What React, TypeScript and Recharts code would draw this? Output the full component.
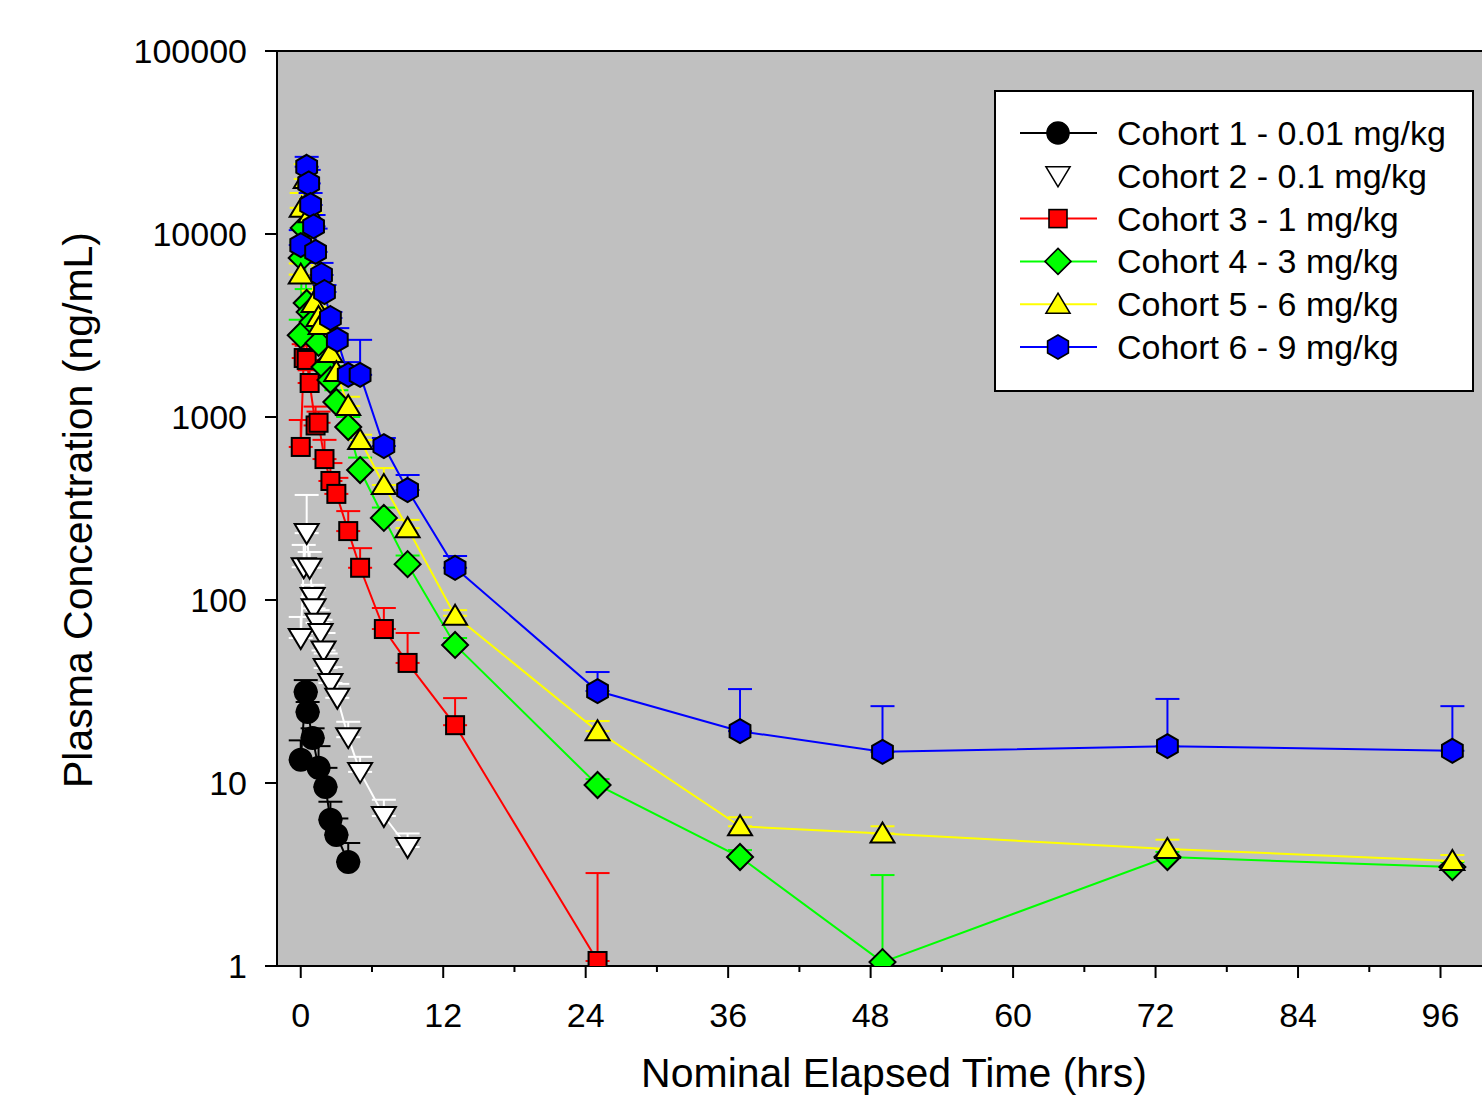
import React from "react";
import { LineChart, Line, XAxis, YAxis, CartesianGrid, ErrorBar, Legend, Label, ReferenceLine } from "recharts";

// nominal time (hrs), mean concentration (ng/mL), upper error bar (mean + SD)
const c1Time = [0, 0.42, 0.58, 1, 1.5, 2.08, 2.5, 3, 4];
const c1Conc = [13.4, 31.4, 24.4, 17.6, 12.1, 9.5, 6.3, 5.2, 3.7];
const c1Upper = [17.1, 36.5, 27.7, 19.9, 15.9, 12.1, 7.9, 6.4, 4.7];

const c2Time = [0, 0.25, 0.5, 0.75, 1, 1.08, 1.42, 1.67, 1.92, 2.1, 2.5, 3.08, 4, 5, 7, 9];
const c2Conc = [62, 151, 232, 150, 104, 90, 75, 66, 53, 42.5, 35.2, 29.2, 17.8, 11.5, 6.6, 4.47];
const c2Upper = [80.8, 200, 375, 183, 121, 113, 88, 78, 66, 51, 43, 34.8, 21.6, 13.9, 8.1, 5.3];

const c3Time = [0, 0.25, 0.5, 0.75, 1.25, 1.5, 2, 2.5, 3, 4, 5, 7, 9, 13, 25];
const c3Conc = [686, 2100, 2050, 1534, 899, 930, 589, 447, 380, 238, 150, 69.4, 45.3, 20.7, 1.065];
const c3Upper = [963, 2500, 2450, 1800, 1140, 1070, 750, 560, 465, 306, 192, 90.4, 66, 29.1, 3.22];

const c4Time = [0, 0.08, 0.25, 0.5, 0.75, 1, 1.5, 2, 2.5, 3, 4, 5, 7, 9, 13, 25, 37, 49, 73, 97];
const c4Conc = [2800, 7400, 10800, 4200, 3750, 3300, 2540, 1876, 1593, 1208, 882, 513, 281, 157, 56.8, 9.75, 3.94, 1.05, 3.94, 3.47];
const c4Upper = [3400, 9000, 13000, 5000, 4400, 3900, 2900, 2200, 1900, 1400, 1000, 600, 320, 175, 62, 10.5, 4.3, 3.14, 4.2, 3.7];

const c5Time = [0, 0.08, 0.42, 0.83, 1.08, 1.5, 1.67, 2.5, 3, 4, 5, 7, 9, 13, 25, 37, 49, 73, 97];
const c5Conc = [6000, 13900, 20000, 13000, 4200, 3520, 3180, 2240, 1760, 1148, 749, 425, 247, 82, 19.2, 5.8, 5.3, 4.36, 3.75];
const c5Upper = [6900, 16750, 24100, 15500, 4900, 4000, 3600, 2600, 2000, 1290, 800, 526, 274, 88, 21.8, 6.5, 5.8, 4.9, 4.04];

const c6Time = [0, 0.5, 0.67, 0.83, 1.08, 1.25, 1.75, 2, 2.5, 3.08, 4, 5, 7, 9, 13, 25, 37, 49, 73, 97];
const c6Conc = [8700, 23300, 18900, 14400, 11000, 7980, 5970, 4820, 3475, 2640, 1700, 1700, 694, 399, 150, 31.8, 19.2, 14.8, 15.9, 15.0];
const c6Upper = [10500, 26400, 22400, 16750, 12700, 10700, 6950, 5260, 3750, 3060, 1995, 2640, 768, 482, 174, 40.4, 32.6, 26.3, 28.8, 26.3];

const cohortNames = [
  "Cohort 1 - 0.01 mg/kg",
  "Cohort 2 - 0.1 mg/kg",
  "Cohort 3 - 1 mg/kg",
  "Cohort 4 - 3 mg/kg",
  "Cohort 5 - 6 mg/kg",
  "Cohort 6 - 9 mg/kg",
];

const xTicks = [0, 6, 12, 18, 24, 30, 36, 42, 48, 54, 60, 66, 72, 78, 84, 90, 96];
const yTicks = [1, 10, 100, 1000, 10000, 100000];

const FONT = "'Liberation Sans', Arial, sans-serif";

type Shape = "circle" | "triDown" | "square" | "diamond" | "triUp" | "hex";

function build(t: number[], c: number[], u: number[]) {
  return t.map((tt, i) => ({ t: tt, c: c[i], err: [0, Math.max(0, u[i] - c[i])] }));
}

const series = [
  { name: cohortNames[0], color: "#000000", fill: "#000000", shape: "circle" as Shape, data: build(c1Time, c1Conc, c1Upper) },
  { name: cohortNames[1], color: "#ffffff", fill: "#ffffff", shape: "triDown" as Shape, data: build(c2Time, c2Conc, c2Upper) },
  { name: cohortNames[2], color: "#ff0000", fill: "#ff0000", shape: "square" as Shape, data: build(c3Time, c3Conc, c3Upper) },
  { name: cohortNames[3], color: "#00ff00", fill: "#00ff00", shape: "diamond" as Shape, data: build(c4Time, c4Conc, c4Upper) },
  { name: cohortNames[4], color: "#ffff00", fill: "#ffff00", shape: "triUp" as Shape, data: build(c5Time, c5Conc, c5Upper) },
  { name: cohortNames[5], color: "#0000ff", fill: "#0000ff", shape: "hex" as Shape, data: build(c6Time, c6Conc, c6Upper) },
];

function Marker({ shape, cx, cy, fill, sw = 2 }: { shape: Shape; cx: number; cy: number; fill: string; sw?: number }) {
  const common = { fill, stroke: "#000", strokeWidth: sw, strokeLinejoin: "miter" as const };
  switch (shape) {
    case "circle":
      return <circle cx={cx} cy={cy} r={11} {...common} />;
    case "triDown":
      return <polygon points={`${cx - 12},${cy - 9} ${cx + 12},${cy - 9} ${cx},${cy + 11}`} {...common} />;
    case "square":
      return <rect x={cx - 9} y={cy - 9} width={18} height={18} {...common} />;
    case "diamond":
      return <polygon points={`${cx},${cy - 13} ${cx + 13},${cy} ${cx},${cy + 13} ${cx - 13},${cy}`} {...common} />;
    case "triUp":
      return <polygon points={`${cx},${cy - 11} ${cx + 12},${cy + 9} ${cx - 12},${cy + 9}`} {...common} />;
    default:
      return (
        <polygon
          points={`${cx},${cy - 12} ${cx + 10.4},${cy - 6} ${cx + 10.4},${cy + 6} ${cx},${cy + 12} ${cx - 10.4},${cy + 6} ${cx - 10.4},${cy - 6}`}
          {...common}
        />
      );
  }
}

function makeDot(shape: Shape, fill: string) {
  return (props: any) => {
    const { cx, cy, index } = props;
    if (cx == null || cy == null) return <g key={index} />;
    return <Marker key={index} shape={shape} cx={cx} cy={cy} fill={fill} />;
  };
}

function XTick(props: any) {
  const { x, y, payload } = props;
  const major = payload.value % 12 === 0;
  return (
    <g>
      <line x1={x} x2={x} y1={y} y2={y + (major ? 12 : 6)} stroke="#000" strokeWidth={2} />
      {major && (
        <text x={x} y={y + 61} textAnchor="middle" fontSize={34} fill="#000" fontFamily={FONT}>
          {payload.value}
        </text>
      )}
    </g>
  );
}

function LegendBox() {
  return (
    <svg width={480} height={302} style={{ display: "block" }}>
      <rect x={1} y={1} width={478} height={300} fill="#fff" stroke="#000" strokeWidth={2} />
      {series.map((s, i) => {
        const y = 43 + i * 42.8;
        return (
          <g key={s.name}>
            <line x1={26} x2={103} y1={y} y2={y} stroke={s.color} strokeWidth={2} />
            <Marker shape={s.shape} cx={64} cy={y} fill={s.fill} sw={1.6} />
            <text x={123} y={y + 12} fontSize={34} fill="#000" fontFamily={FONT}>
              {s.name}
            </text>
          </g>
        );
      })}
    </svg>
  );
}

export default function App() {
  return (
    <div style={{ position: "fixed", left: 0, top: 0, width: 1482, height: 1098, overflow: "hidden", background: "#fff" }}>
      <LineChart width={1540} height={1120} margin={{ top: 51, right: 52, bottom: 0, left: 197 }} style={{ fontFamily: FONT }}>
        <CartesianGrid fill="#c0c0c0" horizontal={false} vertical={false} />
        <XAxis
          dataKey="t"
          type="number"
          domain={[-2, 100]}
          ticks={xTicks}
          interval={0}
          height={154}
          tickSize={0}
          tickMargin={0}
          tickLine={false}
          axisLine={{ stroke: "#000", strokeWidth: 2 }}
          tick={<XTick />}
          allowDataOverflow
        >
          <Label
            content={() => (
              <text x={894} y={1087} textAnchor="middle" fontSize={41} fill="#000" fontFamily={FONT}>
                Nominal Elapsed Time (hrs)
              </text>
            )}
          />
        </XAxis>
        <YAxis
          scale="log"
          domain={[1, 100000]}
          ticks={yTicks}
          interval={0}
          width={80}
          allowDataOverflow
          tickSize={12}
          tickMargin={18}
          axisLine={{ stroke: "#000", strokeWidth: 2 }}
          tickLine={{ stroke: "#000", strokeWidth: 2 }}
          tick={{ fill: "#000", fontSize: 34, fontFamily: FONT }}
          tickFormatter={(v) => String(v)}
        >
          <Label
            content={() => (
              <text x={92} y={510} transform="rotate(-90, 92, 510)" textAnchor="middle" fontSize={41} fill="#000" fontFamily={FONT}>
                Plasma Concentration (ng/mL)
              </text>
            )}
          />
        </YAxis>
        <ReferenceLine y={100000} stroke="#000" strokeWidth={2} ifOverflow="visible" />
        {series.map((s) => (
          <Line
            key={s.name}
            data={s.data}
            dataKey="c"
            name={s.name}
            stroke={s.color}
            strokeWidth={2}
            dot={makeDot(s.shape, s.fill)}
            activeDot={false}
            isAnimationActive={false}
            legendType="none"
          >
            <ErrorBar dataKey="err" direction="y" width={12} stroke={s.color} strokeWidth={2} isAnimationActive={false} />
          </Line>
        ))}
        <Legend
          layout="vertical"
          align="center"
          verticalAlign="middle"
          wrapperStyle={{ left: 994, top: 90, width: 480, height: 302 }}
          content={() => <LegendBox />}
        />
      </LineChart>
    </div>
  );
}
